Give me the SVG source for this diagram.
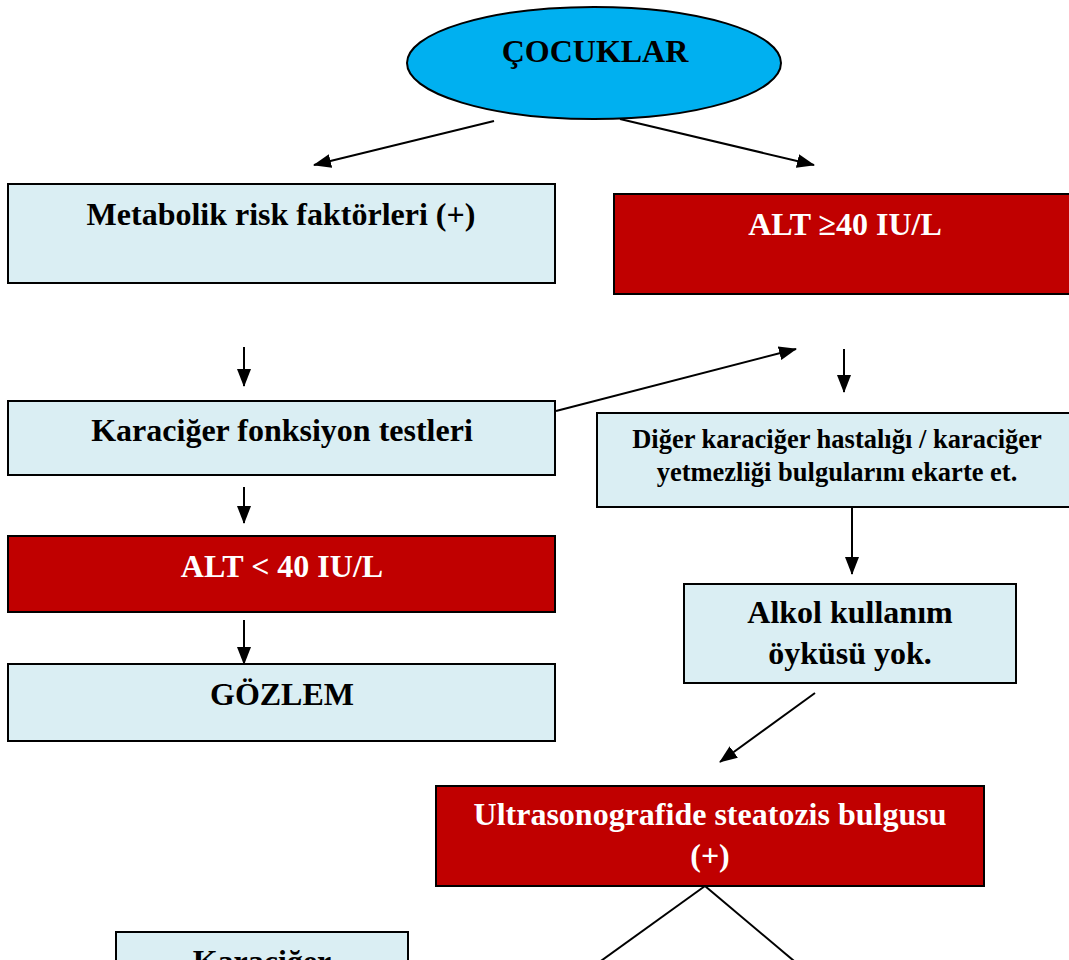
<svg xmlns="http://www.w3.org/2000/svg" width="1069" height="960" viewBox="0 0 1069 960">
<defs>
<marker id="ah" markerUnits="userSpaceOnUse" markerWidth="18" markerHeight="14" refX="17" refY="7" orient="auto">
<path d="M0,0 L18,7 L0,14 Z" fill="#000"/>
</marker>
<style>
.blue{fill:#DAEEF3;stroke:#000;stroke-width:2}
.red{fill:#C00000;stroke:#000;stroke-width:2}
.t{font-family:"Liberation Serif","Times New Roman",serif;font-weight:bold;text-anchor:middle;fill:#000;font-size:32px}
.s{font-size:26.5px}
.w{fill:#fff}
.c{stroke:#000;stroke-width:2;fill:none}
.ca{stroke:#000;stroke-width:2;fill:none;marker-end:url(#ah)}
</style>
</defs>
<rect width="1069" height="960" fill="#fff"/>
<g id="connectors">
<line class="ca" x1="494" y1="121" x2="314" y2="165"/>
<line class="ca" x1="620" y1="119" x2="814" y2="165"/>
<line class="ca" x1="244" y1="347" x2="244" y2="386"/>
<line class="ca" x1="556" y1="411" x2="796" y2="349"/>
<line class="ca" x1="844" y1="349" x2="844" y2="392"/>
<line class="ca" x1="244" y1="487" x2="244" y2="523"/>
<line class="ca" x1="244" y1="620" x2="244" y2="664"/>
<line class="ca" x1="852" y1="507" x2="852" y2="574"/>
<line class="ca" x1="815" y1="693" x2="720" y2="762"/>
<line class="ca" x1="705" y1="886" x2="580" y2="976"/>
<line class="c" x1="705" y1="886" x2="800" y2="966"/>
</g>
<g id="cocuklar">
<ellipse cx="594" cy="63" rx="187" ry="56" fill="#00B0F0" stroke="#000" stroke-width="2"/>
<text class="t" x="595" y="62">ÇOCUKLAR</text>
</g>
<g id="metabolik">
<rect class="blue" x="8" y="184" width="547" height="99"/>
<text class="t" x="281" y="225">Metabolik risk faktörleri (+)</text>
</g>
<g id="alt-high">
<rect class="red" x="614" y="194" width="460" height="100"/>
<text class="t w" x="845" y="235">ALT ≥40 IU/L</text>
</g>
<g id="kft">
<rect class="blue" x="8" y="401" width="547" height="74"/>
<text class="t" x="282" y="441">Karaciğer fonksiyon testleri</text>
</g>
<g id="diger">
<rect class="blue" x="597" y="413" width="477" height="94"/>
<text class="t s" x="837" y="448">Diğer karaciğer hastalığı / karaciğer</text>
<text class="t s" x="837" y="481">yetmezliği bulgularını ekarte et.</text>
</g>
<g id="alt-low">
<rect class="red" x="8" y="536" width="547" height="76"/>
<text class="t w" x="282" y="577">ALT &lt; 40 IU/L</text>
</g>
<g id="gozlem">
<rect class="blue" x="8" y="664" width="547" height="77"/>
<text class="t" x="282" y="705">GÖZLEM</text>
</g>
<g id="alkol">
<rect class="blue" x="684" y="584" width="332" height="99"/>
<text class="t" x="850" y="623">Alkol kullanım</text>
<text class="t" x="850" y="664">öyküsü yok.</text>
</g>
<g id="usg">
<rect class="red" x="436" y="786" width="548" height="100"/>
<text class="t w" x="710" y="825">Ultrasonografide steatozis bulgusu</text>
<text class="t w" x="710" y="866">(+)</text>
</g>
<g id="karaciger-bottom">
<rect class="blue" x="116" y="932" width="292" height="60"/>
<text class="t" x="262" y="972">Karaciğer</text>
</g>
</svg>
